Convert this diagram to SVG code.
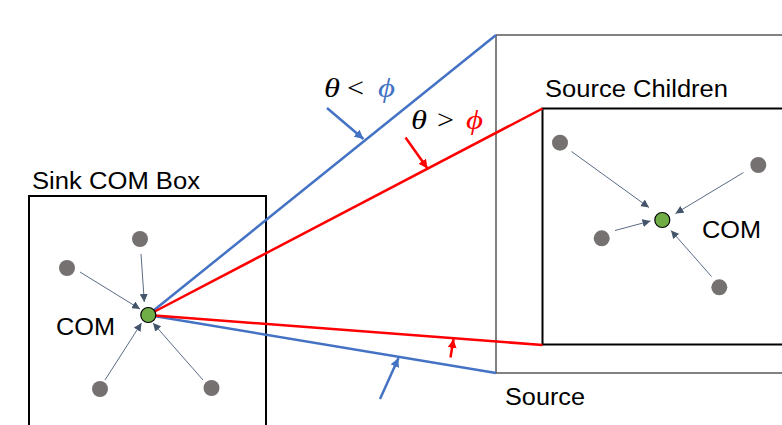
<svg xmlns="http://www.w3.org/2000/svg" width="782" height="425" viewBox="0 0 782 425">
<style>
.lbl{font-family:"Liberation Sans",Arial,sans-serif;font-size:23px;fill:#000}
.math{font-family:"Liberation Serif","DejaVu Serif",serif;font-style:italic;font-size:27px}
.op{font-family:"Liberation Serif","DejaVu Serif",serif;font-size:27px;fill:#000}
.dot{fill:#767171}
.com{fill:#70AD47;stroke:#000;stroke-width:1.2}
.g{stroke:#5A6B85;stroke-width:1;fill:none}
.blue{stroke:#4472C4;stroke-width:2.5;fill:none}
.red{stroke:#FF0000;stroke-width:2.5;fill:none}
.box{fill:none;stroke:#000;stroke-width:2}
</style>
<defs>
<marker id="ag" viewBox="0 0 10 10" refX="10" refY="5" markerWidth="8" markerHeight="8" markerUnits="userSpaceOnUse" orient="auto"><path d="M0,0 L10,5 L0,10 z" fill="#44546A"/></marker>
<marker id="ab" viewBox="0 0 10 10" refX="10" refY="5" markerWidth="9" markerHeight="9" markerUnits="userSpaceOnUse" orient="auto"><path d="M0,0 L10,5 L0,10 z" fill="#4472C4"/></marker>
<marker id="ar" viewBox="0 0 10 10" refX="10" refY="5" markerWidth="9" markerHeight="9" markerUnits="userSpaceOnUse" orient="auto"><path d="M0,0 L10,5 L0,10 z" fill="#FF0000"/></marker>
</defs>
<rect width="782" height="425" fill="#fff"/>

<g id="source">
<path d="M496,35 H790 M496,35 V373 H790" fill="none" stroke="#595959" stroke-width="1.5"/>
<text class="lbl" x="505" y="405" textLength="80" lengthAdjust="spacingAndGlyphs">Source</text>
</g>

<g id="source-children">
<rect class="box" x="542.5" y="108.5" width="245" height="236"/>
<text class="lbl" x="545" y="97" textLength="183" lengthAdjust="spacingAndGlyphs">Source Children</text>
</g>

<g id="sink-box">
<rect class="box" x="29" y="196" width="237" height="240"/>
<text class="lbl" x="32" y="189" textLength="168" lengthAdjust="spacingAndGlyphs">Sink COM Box</text>
</g>

<g id="connectors">
<line class="blue" x1="148" y1="315" x2="496" y2="35"/>
<line class="blue" x1="148" y1="315" x2="496" y2="373"/>
<line class="red" x1="148" y1="315" x2="542.5" y2="108.5"/>
<line class="red" x1="148" y1="315" x2="542.5" y2="345"/>
<line class="blue" x1="327" y1="108" x2="363.5" y2="139" marker-end="url(#ab)"/>
<line class="red" x1="405.5" y1="137.5" x2="427.5" y2="168.5" marker-end="url(#ar)"/>
<line class="blue" x1="380" y1="399" x2="398.5" y2="358" marker-end="url(#ab)"/>
<line class="red" x1="450.5" y1="357.5" x2="453.5" y2="339" marker-end="url(#ar)"/>
<line class="g" x1="141" y1="254" x2="144.3" y2="302" marker-end="url(#ag)"/>
<line class="g" x1="80" y1="272" x2="140" y2="309" marker-end="url(#ag)"/>
<line class="g" x1="105" y1="380" x2="141.5" y2="323" marker-end="url(#ag)"/>
<line class="g" x1="203" y1="380" x2="153" y2="323" marker-end="url(#ag)"/>
<line class="g" x1="571.5" y1="151.5" x2="649" y2="207.5" marker-end="url(#ag)"/>
<line class="g" x1="743.5" y1="172.5" x2="675.5" y2="213.5" marker-end="url(#ag)"/>
<line class="g" x1="615" y1="230.5" x2="650.5" y2="221" marker-end="url(#ag)"/>
<line class="g" x1="711.5" y1="276.5" x2="671" y2="230.5" marker-end="url(#ag)"/>
</g>

<g id="sink-particles">
<circle class="dot" cx="140" cy="239" r="8"/>
<circle class="dot" cx="67" cy="268" r="8"/>
<circle class="dot" cx="100" cy="389" r="8"/>
<circle class="dot" cx="211.5" cy="388" r="8"/>
</g>
<g id="sink-com">
<circle class="com" cx="148.3" cy="315" r="7.5"/>
<text class="lbl" x="56" y="335" textLength="59" lengthAdjust="spacingAndGlyphs">COM</text>
</g>

<g id="source-particles">
<circle class="dot" cx="560" cy="142.7" r="8"/>
<circle class="dot" cx="758.3" cy="165" r="8"/>
<circle class="dot" cx="601.7" cy="238.3" r="8"/>
<circle class="dot" cx="719.3" cy="287.3" r="8"/>
</g>
<g id="source-com">
<circle class="com" cx="662.3" cy="220" r="7.5"/>
<text class="lbl" x="702" y="238" textLength="59" lengthAdjust="spacingAndGlyphs">COM</text>
</g>

<g id="label-lt">
<text class="math" x="324" y="97" fill="#000" textLength="16" lengthAdjust="spacingAndGlyphs">θ</text>
<text class="op" x="347" y="97" textLength="17" lengthAdjust="spacingAndGlyphs">&lt;</text>
<text class="math" x="378" y="97" fill="#4472C4" textLength="17" lengthAdjust="spacingAndGlyphs">ϕ</text>
</g>
<g id="label-gt">
<text class="math" x="411" y="129" fill="#000" textLength="16" lengthAdjust="spacingAndGlyphs">θ</text>
<text class="op" x="437" y="129" textLength="17" lengthAdjust="spacingAndGlyphs">&gt;</text>
<text class="math" x="466" y="129" fill="#FF0000" textLength="17" lengthAdjust="spacingAndGlyphs">ϕ</text>
</g>
</svg>
